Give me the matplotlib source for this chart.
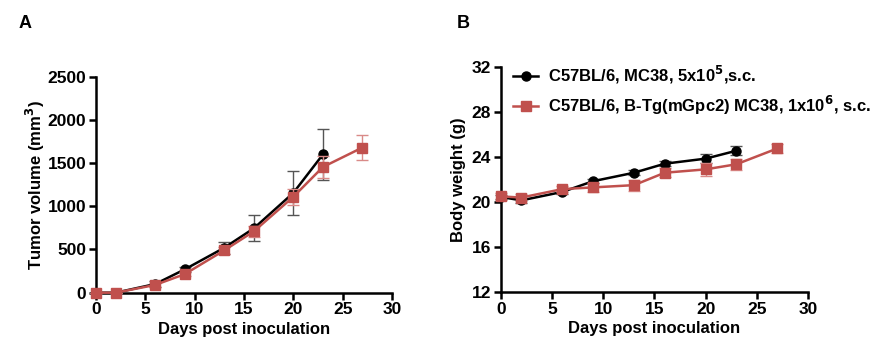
import matplotlib
matplotlib.use("Agg")
import matplotlib.pyplot as plt
from matplotlib.lines import Line2D

plt.rcParams['font.family'] = ['Liberation Sans', 'DejaVu Sans']
plt.rcParams['font.weight'] = 'bold'

days_black = [0, 2, 6, 9, 13, 16, 20, 23]
days_red = [0, 2, 6, 9, 13, 16, 20, 23, 27]

tumor_black = [0, 0, 100, 270, 520, 745, 1155, 1600]
tumor_black_err = [0, 0, 30, 30, 70, 150, 257, 295]
tumor_red = [0, 0, 90, 215, 490, 710, 1110, 1455, 1680]
tumor_red_err = [0, 0, 25, 25, 40, 60, 90, 127, 143]

bw_black = [20.45, 20.15, 20.9, 21.85, 22.6, 23.4, 23.85, 24.55]
bw_black_err = [0.2, 0.2, 0.2, 0.2, 0.2, 0.2, 0.4, 0.4]
bw_red = [20.5, 20.4, 21.15, 21.3, 21.5, 22.6, 22.9, 23.35, 24.75]
bw_red_err = [0.3, 0.3, 0.3, 0.4, 0.5, 0.4, 0.6, 0.5, 0.4]

label_black = r'C57BL/6, MC38, 5x10$^{\mathbf{5}}$,s.c.'
label_red = r'C57BL/6, B-Tg(mGpc2) MC38, 1x10$^{\mathbf{6}}$, s.c.'

RED = '#C0504D'
RED_ERR = '#D98A88'
BLK_ERR = '#555555'

TICK_FS = 12.5
LABEL_FS = 12

fig = plt.figure(figsize=(8.84, 3.52), dpi=100)
ax1 = fig.add_axes([0.1086, 0.1685, 0.3348, 0.6135])
ax2 = fig.add_axes([0.5667, 0.1696, 0.3473, 0.6409])


def style(ax):
    for s in ['top', 'right']:
        ax.spines[s].set_visible(False)
    for s in ['left', 'bottom']:
        ax.spines[s].set_linewidth(1.8)
    ax.tick_params(direction='out', length=5, width=1.8, labelsize=TICK_FS, pad=2)
    for lab in ax.get_xticklabels() + ax.get_yticklabels():
        lab.set_fontweight('bold')


def draw(ax, xb, yb, eb, xr, yr, er):
    ax.errorbar(xb, yb, yerr=eb, color='black', marker='o', ms=6.5, lw=1.8,
                ecolor=BLK_ERR, elinewidth=1, capsize=4, capthick=1, zorder=3)
    ax.errorbar(xr, yr, yerr=er, color=RED, marker='s', ms=7, lw=1.8,
                ecolor=RED_ERR, elinewidth=1, capsize=4, capthick=1, zorder=4)
    for ln in ax.lines + ax.collections:
        ln.set_clip_on(False)


# Panel A
draw(ax1, days_black, tumor_black, tumor_black_err, days_red, tumor_red, tumor_red_err)
ax1.set_xlim(0, 30)
ax1.set_ylim(0, 2500)
ax1.set_xticks([0, 5, 10, 15, 20, 25, 30])
ax1.set_yticks([0, 500, 1000, 1500, 2000, 2500])
ax1.set_xlabel('Days post inoculation', fontsize=LABEL_FS, fontweight='bold', labelpad=3)
ax1.set_ylabel(r'Tumor volume (mm$^{\mathbf{3}}$)', fontsize=LABEL_FS, fontweight='bold', labelpad=0.5)
style(ax1)

# Panel B
draw(ax2, days_black, bw_black, bw_black_err, days_red, bw_red, bw_red_err)
ax2.set_xlim(0, 30)
ax2.set_ylim(12, 32)
ax2.set_xticks([0, 5, 10, 15, 20, 25, 30])
ax2.set_yticks([12, 16, 20, 24, 28, 32])
ax2.set_xlabel('Days post inoculation', fontsize=LABEL_FS, fontweight='bold', labelpad=3)
ax2.set_ylabel('Body weight (g)', fontsize=LABEL_FS, fontweight='bold', labelpad=4)
style(ax2)

handles = [Line2D([], [], color='black', marker='o', ms=6.5, lw=1.8),
           Line2D([], [], color=RED, marker='s', ms=7, lw=1.8)]
ax2.legend(handles, [label_black, label_red], loc='upper left',
           bbox_to_anchor=(0.018, 1.04), frameon=False,
           prop={'weight': 'bold', 'size': 12}, handlelength=1.5,
           handletextpad=0.6, labelspacing=0.45, borderaxespad=0.0)

fig.text(19 / 884, 1 - 24 / 352, 'A', fontsize=13, fontweight='bold', va='center', ha='left')
fig.text(457 / 884, 1 - 24 / 352, 'B', fontsize=13, fontweight='bold', va='center', ha='left')

fig.savefig('out.png', dpi=100)
